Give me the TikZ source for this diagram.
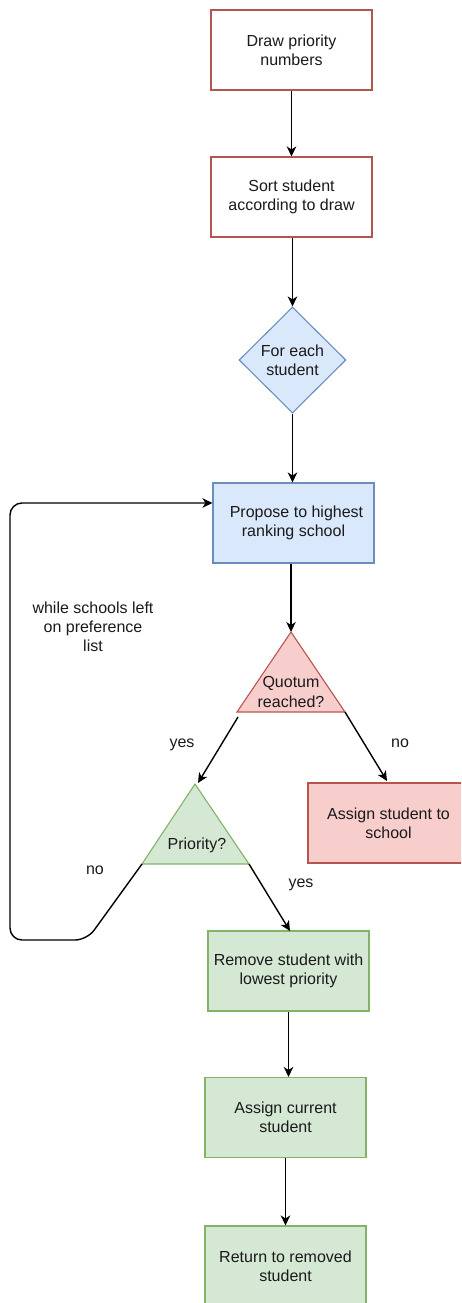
\documentclass[tikz,border=0pt]{standalone}
\usepackage{fontspec}
\setmainfont{Liberation Sans}
\usetikzlibrary{arrows.meta,shapes.geometric}

\definecolor{redline}{HTML}{B85450}
\definecolor{redfill}{HTML}{F8CECC}
\definecolor{blueline}{HTML}{6C8EBF}
\definecolor{bluefill}{HTML}{DAE8FC}
\definecolor{greenline}{HTML}{82B366}
\definecolor{greenfill}{HTML}{D5E8D4}
\definecolor{ink}{HTML}{1A1A1A}

\tikzset{
  x=1pt, y=-1pt,
  every node/.style={font=\fontsize{16}{19.2}\selectfont, text=ink, align=center},
  stepbox/.style={rectangle, draw, line width=1.1pt, minimum width=161pt, minimum height=80pt, inner sep=0pt},
  redbox/.style={stepbox, draw=redline, fill=white},
  redsolid/.style={stepbox, draw=redline, fill=redfill},
  bluebox/.style={stepbox, draw=blueline, fill=bluefill},
  greenbox/.style={stepbox, draw=greenline, fill=greenfill},
  tri/.style={line width=1.1pt, line join=miter},
  flow/.style={draw=black, line width=1.4pt, -{Stealth[length=10pt,width=9.5pt,inset=3pt]}},
  lbl/.style={inner sep=0pt}
}

\begin{document}
\begin{tikzpicture}
\useasboundingbox (0,0) rectangle (461,1303);
\clip (0,0) rectangle (461,1303);

% process steps
\node[redbox]   (draw)    at (291.5,50)  {Draw priority\\numbers};
\node[redbox]   (sort)    at (291.5,197) {Sort student\\according to draw};
\node[diamond, draw=blueline, fill=bluefill, line width=1.1pt, aspect=1,
      minimum width=107pt, minimum height=106pt, inner sep=0pt]
                (each)    at (292.5,360) {For each\\student};
\node[bluebox]  (propose) at (293.5,523) {\hspace*{6pt}Propose to highest\\ranking school};

% decision triangles
\coordinate (qtop) at (291,632);
\coordinate (qbl)  at (237,712);
\coordinate (qbr)  at (345,712);
\draw[tri, draw=redline, fill=redfill] (qtop) -- (qbr) -- (qbl) -- cycle;
\node (quotum) at (291,692) {Quotum\\reached?};

\coordinate (ptop) at (195,784);
\coordinate (pbl)  at (142,864);
\coordinate (pbr)  at (249,864);
\draw[tri, draw=greenline, fill=greenfill] (ptop) -- (pbr) -- (pbl) -- cycle;
\node (prio) at (197,845) {Priority?};

\node[redsolid] (assign)  at (388.5,823)  {Assign student to\\school};
\node[greenbox] (remove)  at (288.5,971)  {Remove student with\\lowest priority};
\node[greenbox] (current) at (285.5,1117.5) {Assign current\\student};
\node[greenbox] (ret)     at (285.5,1266) {Return to removed\\student};

% connectors
\draw[flow] (draw) -- (sort);
\draw[flow] (sort.south -| each.north) -- (each);
\draw[flow] (each.south) -- (each.south |- propose.north);
\draw[flow] (propose.south -| qtop) -- (qtop);
\coordinate (yesfrom) at (238,717);
\coordinate (yesto)   at (198,783);
\draw[flow] (yesfrom) -- (yesto);
\coordinate (noto) at (387,781);
\draw[flow] (qbr) -- (noto);
\coordinate (ryes) at (290,931);
\draw[flow] (pbr) -- (ryes);
\draw[flow] (remove.south) -- (remove.south |- current.north);
\draw[flow] (current.south) -- (current.south |- ret.north);

% loop back to the next school on the list
\coordinate (lb1) at (87,940);
\coordinate (lb2) at (10,940);
\coordinate (lt)  at (10,503);
\draw[flow, rounded corners=12pt] (pbl) -- (lb1) -- (lb2) -- (lt) -- ([yshift=20pt]propose.west);

% branch labels
\node[lbl] at (182,745) {yes};
\node[lbl] at (400,743) {no};
\node[lbl] at (95,870)  {no};
\node[lbl] at (301,885) {yes};
\node[lbl] at (93,627)  {while schools left\\on preference\\list};
\end{tikzpicture}
\end{document}
